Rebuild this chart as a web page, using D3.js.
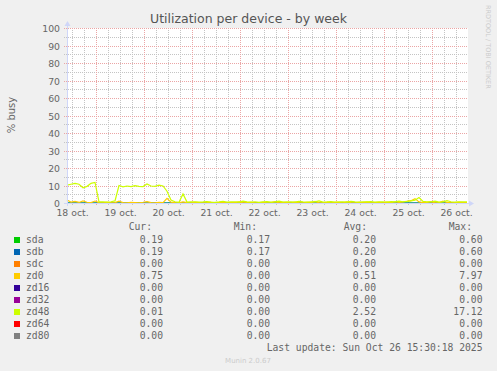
<!DOCTYPE html>
<html>
<head>
<meta charset="utf-8">
<script src="https://cdn.jsdelivr.net/npm/d3@7"></script>
<style>
  html, body { margin: 0; padding: 0; background: #f0f0f0; }
  svg { display: block; }
  text { fill: #666; }
</style>
</head>
<body>
<svg id="chart" width="497" height="371"></svg>
<script>
// Munin style "Utilization per device - by week" graph

// time span shown by the graph (UTC, no tz surprises)
const startTime = Date.UTC(2025, 9, 18, 9, 15);
const endTime = Date.UTC(2025, 9, 26, 17, 45);

const dayLabels = ['18 oct.', '19 oct.', '20 oct.', '21 oct.', '22 oct.', '23 oct.', '24 oct.', '25 oct.', '26 oct.'];
const yTicks = [0, 10, 20, 30, 40, 50, 60, 70, 80, 90, 100];

const deviceNames = ['sda', 'sdb', 'sdc', 'zd0', 'zd16', 'zd32', 'zd48', 'zd64', 'zd80'];
const deviceColors = ['#00cc00', '#0066b3', '#ff8000', '#ffcc00', '#330099', '#990099', '#ccff00', '#ff0000', '#808080'];

// samples spread evenly from startTime to startTime + 200h
const sdaValues = [0.20, 0.22, 0.19, 0.21, 0.18, 0.20, 0.22, 0.19, 0.20, 0.21, 0.19, 0.18, 0.20, 0.22, 0.19, 0.20, 0.19];
const sdbValues = [0.20, 0.21, 0.19, 0.21, 0.18, 0.20, 0.22, 0.19, 0.20, 0.21, 0.19, 0.18, 0.20, 0.21, 0.19, 0.20, 0.19];
const sdcValues = [0, 0, 0, 0, 0, 0, 0, 0, 0];
const zd0Values = [
  2.0, 0.8, 1.2, 0.6, 1.5, 0.7, 0.5, 1.4, 0.5, 0.4,
  0.6, 0.4, 0.5, 1.3, 0.5, 0.4, 0.6, 0.5, 0.4, 0.7,
  1.1, 0.5, 0.4, 0.6, 0.5, 3.0, 0.8, 0.5, 0.4, 0.9,
  0.5, 0.4, 0.6, 0.5, 0.4, 0.5, 0.7, 0.4, 0.5, 0.6,
  0.4, 0.5, 0.5, 0.9, 0.4, 0.5, 0.6, 0.4, 0.5, 0.7,
  0.4, 0.5, 1.1, 0.4, 0.6, 0.5, 0.4, 0.8, 0.5, 0.4,
  0.6, 0.5, 1.2, 0.4, 0.5, 0.7, 0.4, 0.6, 0.5, 0.4,
  0.9, 0.5, 0.4, 0.6, 0.5, 0.8, 0.4, 0.5, 0.6, 0.4,
  0.8, 0.5, 1.0, 0.6, 0.9, 1.3, 1.6, 2.8, 0.9, 0.5,
  0.6, 1.1, 0.4, 0.5, 1.3, 0.6, 0.4, 0.5, 0.6, 0.5,
  0.5
];
const zd16Values = [0, 0, 0, 0, 0, 0, 0, 0, 0];
const zd32Values = [0, 0, 0, 0, 0, 0, 0, 0, 0];
const zd48Values = [
  10.5, 11.0, 11.5, 11.0, 9.0, 9.8, 11.5, 12.0, 0.9, 1.0,
  0.8, 1.0, 1.5, 10.3, 9.5, 10.0, 9.6, 10.2, 9.8, 9.7,
  11.2, 10.0, 9.8, 10.5, 10.0, 7.0, 2.0, 1.0, 0.7, 5.5,
  0.8, 0.9, 1.0, 0.8, 0.9, 1.1, 0.8, 0.7, 0.9, 1.2,
  0.8, 0.9, 1.0, 0.8, 1.3, 0.9, 0.8, 1.0, 0.7, 0.9,
  1.1, 0.8, 0.9, 1.4, 0.8, 1.0, 0.9, 0.8, 1.2, 0.9,
  0.8, 1.0, 0.9, 1.5, 0.8, 0.9, 1.1, 0.8, 1.0, 0.9,
  0.8, 1.2, 0.9, 0.8, 1.0, 0.9, 1.1, 0.8, 0.9, 1.0,
  0.8, 1.1, 0.9, 1.3, 1.0, 1.2, 1.5, 1.9, 3.4, 1.2,
  0.9, 1.0, 1.4, 0.8, 0.9, 1.6, 1.0, 0.8, 0.9, 1.0,
  0.9
];
const zd64Values = [0, 0, 0, 0, 0, 0, 0, 0, 0];
const zd80Values = [0, 0, 0, 0, 0, 0, 0, 0, 0];

const curValues = ['0.19', '0.19', '0.00', '0.75', '0.00', '0.00', '0.01', '0.00', '0.00'];
const minValues = ['0.17', '0.17', '0.00', '0.00', '0.00', '0.00', '0.00', '0.00', '0.00'];
const avgValues = ['0.20', '0.20', '0.00', '0.51', '0.00', '0.00', '2.52', '0.00', '0.00'];
const maxValues = ['0.60', '0.60', '0.00', '7.97', '0.00', '0.00', '17.12', '0.00', '0.00'];

const seriesValues = [sdaValues, sdbValues, sdcValues, zd0Values, zd16Values, zd32Values, zd48Values, zd64Values, zd80Values];
const sampleSpan = 200 * 3600 * 1000;

const svg = d3.select('#chart');
const width = 497;

const plot = { left: 67, right: 468, top: 28, bottom: 203 };
const GRID = '#c4c4c4';
const MGRID = '#eba5a5';
const AXIS = '#cfd6f8';

const x = d3.scaleUtc()
  .domain([new Date(startTime), new Date(endTime)])
  .range([plot.left, plot.right]);

// 0 sits on the centre of the axis pixel row
const y = d3.scaleLinear()
  .domain([0, 100])
  .range([plot.bottom + 0.5, plot.top + 0.5]);

const px = v => Math.floor(v) + 0.5;

// canvas
svg.append('rect')
  .attr('x', plot.left).attr('y', plot.top)
  .attr('width', plot.right - plot.left).attr('height', plot.bottom - plot.top)
  .style('fill', '#fff');

// title
svg.append('text')
  .attr('x', width / 2).attr('y', 23)
  .attr('text-anchor', 'middle')
  .style('font-family', 'DejaVu Sans')
  .style('font-size', '12.5px')
  .style('fill', '#555')
  .text('Utilization per device - by week');

// grid, dotted like rrdtool
const grid = svg.append('g');
const minorHours = d3.utcHour.every(6).range(x.domain()[0], x.domain()[1]);
const days = d3.utcDay.range(x.domain()[0], x.domain()[1]);

function vLines(data, color) {
  grid.append('g').selectAll('line')
    .data(data)
    .enter().append('line')
    .attr('x1', d => px(x(d))).attr('x2', d => px(x(d)))
    .attr('y1', plot.top).attr('y2', plot.bottom + 3)
    .style('stroke', color).style('stroke-width', 1)
    .style('stroke-dasharray', '1,1');
}
function hLines(data, color) {
  grid.append('g').selectAll('line')
    .data(data)
    .enter().append('line')
    .attr('x1', plot.left - 3).attr('x2', plot.right)
    .attr('y1', d => px(y(d))).attr('y2', d => px(y(d)))
    .style('stroke', color).style('stroke-width', 1)
    .style('stroke-dasharray', '1,1');
}

vLines(minorHours.filter(d => d.getUTCHours() !== 0), GRID);
hLines(d3.range(5, 100, 10), GRID);
vLines(days, MGRID);
hLines(yTicks.filter(d => d > 0), MGRID);

// y tick labels
svg.append('g').selectAll('text')
  .data(yTicks)
  .enter().append('text')
  .attr('x', 60).attr('y', d => px(y(d)) + 3.5)
  .attr('text-anchor', 'end')
  .style('font-family', 'DejaVu Sans')
  .style('font-size', '9.3px')
  .text(d => d);

// day labels, centred at noon like rrdtool does
svg.append('g').selectAll('text')
  .data(dayLabels)
  .enter().append('text')
  .attr('x', (d, i) => x(new Date(Date.UTC(2025, 9, 18 + i, 12))))
  .attr('y', 216)
  .attr('text-anchor', 'middle')
  .style('font-family', 'DejaVu Sans')
  .style('font-size', '9.3px')
  .text(d => d);

// y axis title
svg.append('text')
  .attr('transform', 'translate(15,115) rotate(-90)')
  .attr('text-anchor', 'middle')
  .style('font-family', 'DejaVu Sans')
  .style('font-size', '10px')
  .text('% busy');

// data lines
const line = d3.line()
  .x(d => x(d.t))
  .y(d => y(d.v));

const lines = svg.append('g');
deviceNames.forEach((name, i) => {
  const vals = seriesValues[i];
  const step = sampleSpan / (vals.length - 1);
  const pts = vals.map((v, k) => ({ t: new Date(startTime + k * step), v: v }));
  lines.append('path')
    .datum(pts)
    .attr('d', line)
    .style('fill', 'none')
    .style('stroke', deviceColors[i])
    .style('stroke-width', 1.2);
});

// axes with arrows, drawn over the data
const axis = svg.append('g').attr('shape-rendering', 'crispEdges');
axis.append('line')
  .attr('x1', plot.left - 3).attr('x2', plot.right + 2)
  .attr('y1', plot.bottom + 0.5).attr('y2', plot.bottom + 0.5)
  .style('stroke', AXIS);
axis.append('line')
  .attr('x1', plot.left + 0.5).attr('x2', plot.left + 0.5)
  .attr('y1', plot.bottom + 3).attr('y2', plot.top - 3)
  .style('stroke', AXIS);
svg.append('path')
  .attr('d', `M${plot.right + 1},${plot.bottom - 2.5} L${plot.right + 6},${plot.bottom + 0.5} L${plot.right + 1},${plot.bottom + 3.5} Z`)
  .style('fill', AXIS);
svg.append('path')
  .attr('d', `M${plot.left - 2.5},${plot.top - 2} L${plot.left + 0.5},${plot.top - 7} L${plot.left + 3.5},${plot.top - 2} Z`)
  .style('fill', AXIS);

// legend
const mono = 'DejaVu Sans Mono';
const legendFont = '9.7px';
const headers = [
  { label: 'Cur:', x: 152 },
  { label: 'Min:', x: 257 },
  { label: 'Avg:', x: 367 },
  { label: 'Max:', x: 472 }
];
svg.append('g').selectAll('text')
  .data(headers)
  .enter().append('text')
  .attr('x', d => d.x).attr('y', 230)
  .attr('text-anchor', 'end')
  .style('font-family', mono)
  .style('font-size', legendFont)
  .text(d => d.label);

const rowY = i => 243.3 + i * 12;
const legend = svg.append('g');
deviceNames.forEach((name, i) => {
  legend.append('rect')
    .attr('x', 14).attr('y', rowY(i) - 6.3)
    .attr('width', 6).attr('height', 6)
    .style('fill', deviceColors[i]);
  legend.append('text')
    .attr('x', 26).attr('y', rowY(i))
    .style('font-family', mono).style('font-size', legendFont)
    .text(name);
  [[curValues, 163], [minValues, 270], [avgValues, 376], [maxValues, 482.5]].forEach(([vals, xr]) => {
    legend.append('text')
      .attr('x', xr).attr('y', rowY(i))
      .attr('text-anchor', 'end')
      .style('font-family', mono).style('font-size', legendFont)
      .text(vals[i]);
  });
});

svg.append('text')
  .attr('x', 482.5).attr('y', rowY(9))
  .attr('text-anchor', 'end')
  .style('font-family', mono).style('font-size', legendFont)
  .text('Last update: Sun Oct 26 15:30:18 2025');

// footer and watermark
svg.append('text')
  .attr('x', 248).attr('y', 363)
  .attr('text-anchor', 'middle')
  .style('font-family', 'DejaVu Sans')
  .style('font-size', '7px')
  .style('fill', '#ccc')
  .text('Munin 2.0.67');

svg.append('text')
  .attr('transform', 'translate(486,5) rotate(90)')
  .style('font-family', 'DejaVu Sans')
  .style('font-size', '6.5px')
  .style('fill', '#ccc')
  .text('RRDTOOL / TOBI OETIKER');
</script>
</body>
</html>
